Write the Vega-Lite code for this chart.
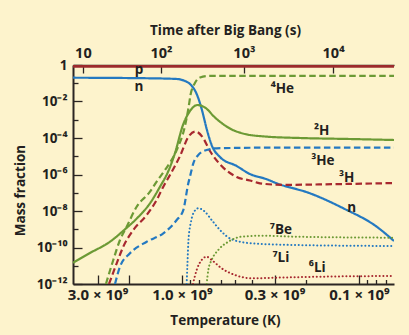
{
  "$schema": "https://vega.github.io/schema/vega-lite/v6.json",
  "width": 321,
  "height": 219,
  "autosize": {"type": "none"},
  "padding": {"left": 73, "top": 65, "right": 15, "bottom": 51},
  "background": "#fdf3cc",
  "config": {"view": {"stroke": null}, "font": "Open Sans"},
  "datasets": {
    "lines": [
      {"s": "n", "T": 4.13e9, "f": 0.201}, {"s": "n", "T": 1.52e9, "f": 0.187}, {"s": "n", "T": 1.067e9, "f": 0.171}, {"s": "n", "T": 9.62e8, "f": 0.133}, {"s": "n", "T": 9.01e8, "f": 0.091}, {"s": "n", "T": 8.26e8, "f": 0.0258}, {"s": "n", "T": 7.74e8, "f": 3.88e-3}, {"s": "n", "T": 7.25e8, "f": 3.11e-4}, {"s": "n", "T": 6.80e8, "f": 4.13e-5}, {"s": "n", "T": 6.10e8, "f": 9.1e-6}, {"s": "n", "T": 4.91e8, "f": 2.92e-6}, {"s": "n", "T": 4.13e8, "f": 1.06e-6}, {"s": "n", "T": 3.35e8, "f": 5.67e-7}, {"s": "n", "T": 2.92e8, "f": 3.30e-7}, {"s": "n", "T": 1.892e8, "f": 9.33e-8}, {"s": "n", "T": 1.226e8, "f": 1.41e-8}, {"s": "n", "T": 7.94e7, "f": 1.38e-9}, {"s": "n", "T": 6.34e7, "f": 2.27e-10},
      {"s": "2H", "T": 4.13e9, "f": 1.47e-11}, {"s": "2H", "T": 3.31e9, "f": 5.0e-11}, {"s": "2H", "T": 2.55e9, "f": 2.08e-10}, {"s": "2H", "T": 2.10e9, "f": 9.93e-10}, {"s": "2H", "T": 1.796e9, "f": 3.98e-9}, {"s": "2H", "T": 1.516e9, "f": 2.64e-8}, {"s": "2H", "T": 1.331e9, "f": 2.15e-7}, {"s": "2H", "T": 1.2e9, "f": 1.37e-6}, {"s": "2H", "T": 1.095e9, "f": 1.51e-5}, {"s": "2H", "T": 9.87e8, "f": 5.16e-4}, {"s": "2H", "T": 9.01e8, "f": 3.02e-3}, {"s": "2H", "T": 8.18e8, "f": 6.43e-3}, {"s": "2H", "T": 7.42e8, "f": 4.69e-3}, {"s": "2H", "T": 6.51e8, "f": 1.33e-3}, {"s": "2H", "T": 5.36e8, "f": 3.32e-4}, {"s": "2H", "T": 4.41e8, "f": 1.66e-4}, {"s": "2H", "T": 3.40e8, "f": 1.21e-4}, {"s": "2H", "T": 2.154e8, "f": 1.0e-4}, {"s": "2H", "T": 1.124e8, "f": 8.81e-5}, {"s": "2H", "T": 6.34e7, "f": 7.77e-5},
      {"s": "4He", "T": 2.69e9, "f": 1e-12}, {"s": "4He", "T": 2.444e9, "f": 2.07e-11}, {"s": "4He", "T": 2.24e9, "f": 2.58e-10}, {"s": "4He", "T": 2.053e9, "f": 1.38e-9}, {"s": "4He", "T": 1.803e9, "f": 1.72e-8}, {"s": "4He", "T": 1.516e9, "f": 1.14e-7}, {"s": "4He", "T": 1.39e9, "f": 4.03e-7}, {"s": "4He", "T": 1.247e9, "f": 1.76e-6}, {"s": "4He", "T": 1.071e9, "f": 2.20e-5}, {"s": "4He", "T": 9.62e8, "f": 4.55e-4}, {"s": "4He", "T": 9.19e8, "f": 4.40e-3}, {"s": "4He", "T": 8.95e8, "f": 0.0227}, {"s": "4He", "T": 8.45e8, "f": 0.103}, {"s": "4He", "T": 7.91e8, "f": 0.207}, {"s": "4He", "T": 6.95e8, "f": 0.255}, {"s": "4He", "T": 6.34e7, "f": 0.255},
      {"s": "3H", "T": 2.585e9, "f": 1e-12}, {"s": "3H", "T": 2.338e9, "f": 1.36e-11}, {"s": "3H", "T": 2.146e9, "f": 1.11e-10}, {"s": "3H", "T": 1.884e9, "f": 9.1e-10}, {"s": "3H", "T": 1.582e9, "f": 6.04e-9}, {"s": "3H", "T": 1.39e9, "f": 4.0e-8}, {"s": "3H", "T": 1.275e9, "f": 2.15e-7}, {"s": "3H", "T": 1.169e9, "f": 9.4e-7}, {"s": "3H", "T": 1.026e9, "f": 1.03e-5}, {"s": "3H", "T": 9.21e8, "f": 1.13e-4}, {"s": "3H", "T": 8.39e8, "f": 2.27e-4}, {"s": "3H", "T": 7.66e8, "f": 1.13e-4}, {"s": "3H", "T": 6.95e8, "f": 1.94e-5}, {"s": "3H", "T": 5.97e8, "f": 2.92e-6}, {"s": "3H", "T": 4.91e8, "f": 7.30e-7}, {"s": "3H", "T": 4.13e8, "f": 4.69e-7}, {"s": "3H", "T": 3.63e8, "f": 3.30e-7}, {"s": "3H", "T": 2.688e8, "f": 2.70e-7}, {"s": "3H", "T": 1.403e8, "f": 2.95e-7}, {"s": "3H", "T": 6.34e7, "f": 3.4e-7},
      {"s": "3He", "T": 2.39e9, "f": 1e-12}, {"s": "3He", "T": 2.24e9, "f": 8.87e-12}, {"s": "3He", "T": 1.967e9, "f": 4.81e-11}, {"s": "3He", "T": 1.582e9, "f": 2.08e-10}, {"s": "3He", "T": 1.275e9, "f": 6.0e-10}, {"s": "3He", "T": 1.071e9, "f": 3.21e-9}, {"s": "3He", "T": 9.83e8, "f": 1.13e-8}, {"s": "3He", "T": 9.21e8, "f": 3.30e-7}, {"s": "3He", "T": 9.01e8, "f": 7.57e-7}, {"s": "3He", "T": 8.63e8, "f": 4.11e-6}, {"s": "3He", "T": 8.09e8, "f": 1.17e-5}, {"s": "3He", "T": 7.25e8, "f": 2.20e-5}, {"s": "3He", "T": 6.37e8, "f": 2.73e-5}, {"s": "3He", "T": 3.63e8, "f": 2.94e-5}, {"s": "3He", "T": 6.34e7, "f": 2.94e-5}
    ],
    "dots": [
      {"s": "7Li", "T": 9.41e8, "f": 1e-12}, {"s": "7Li", "T": 9.31e8, "f": 1.42e-11}, {"s": "7Li", "T": 9.19e8, "f": 2.58e-10}, {"s": "7Li", "T": 8.90e8, "f": 2.50e-9}, {"s": "7Li", "T": 8.55e8, "f": 8.81e-9}, {"s": "7Li", "T": 8.09e8, "f": 1.41e-8}, {"s": "7Li", "T": 7.42e8, "f": 9.16e-9}, {"s": "7Li", "T": 6.80e8, "f": 3.21e-9}, {"s": "7Li", "T": 5.97e8, "f": 7.34e-10}, {"s": "7Li", "T": 5.24e8, "f": 2.81e-10}, {"s": "7Li", "T": 4.04e8, "f": 1.70e-10}, {"s": "7Li", "T": 2.30e8, "f": 1.37e-10}, {"s": "7Li", "T": 6.34e7, "f": 1.21e-10},
      {"s": "7Be", "T": 7.25e8, "f": 1e-12}, {"s": "7Be", "T": 7.10e8, "f": 5.85e-12}, {"s": "7Be", "T": 6.80e8, "f": 2.07e-11}, {"s": "7Be", "T": 6.24e8, "f": 7.3e-11}, {"s": "7Be", "T": 5.47e8, "f": 2.08e-10}, {"s": "7Be", "T": 4.60e8, "f": 3.91e-10}, {"s": "7Be", "T": 3.55e8, "f": 4.43e-10}, {"s": "7Be", "T": 2.30e8, "f": 3.91e-10}, {"s": "7Be", "T": 6.34e7, "f": 3.44e-10},
      {"s": "6Li", "T": 8.67e8, "f": 1e-12}, {"s": "6Li", "T": 8.26e8, "f": 5.85e-12}, {"s": "6Li", "T": 7.74e8, "f": 2.07e-11}, {"s": "6Li", "T": 7.25e8, "f": 3.13e-11}, {"s": "6Li", "T": 6.80e8, "f": 2.07e-11}, {"s": "6Li", "T": 5.97e8, "f": 7.25e-12}, {"s": "6Li", "T": 5.02e8, "f": 3.11e-12}, {"s": "6Li", "T": 4.04e8, "f": 2.05e-12}, {"s": "6Li", "T": 2.98e8, "f": 2.21e-12}, {"s": "6Li", "T": 1.403e8, "f": 2.58e-12}, {"s": "6Li", "T": 6.34e7, "f": 2.74e-12}
    ],
    "proton": [
      {"s": "p", "T": 4.13e9, "f": 0.85}, {"s": "p", "T": 6.34e7, "f": 0.85}
    ],
    "labels": [
      {"label": "p", "T": 1.75e9, "f": 0.342},
      {"label": "n", "T": 1.75e9, "f": 0.0391},
      {"label": "⁴He", "T": 2.71e8, "f": 0.0281},
      {"label": "²H", "T": 1.624e8, "f": 1.46e-4},
      {"label": "³He", "T": 1.60e8, "f": 3.32e-6},
      {"label": "³H", "T": 1.173e8, "f": 4.03e-7},
      {"label": "n", "T": 1.10e8, "f": 9.16e-9},
      {"label": "⁷Be", "T": 2.76e8, "f": 5.29e-10},
      {"label": "⁷Li", "T": 2.76e8, "f": 1.55e-11},
      {"label": "⁶Li", "T": 1.72e8, "f": 4.72e-12}
    ]
  },
  "resolve": {"axis": {"x": "independent"}},
  "layer": [
    {
      "data": {"name": "lines"},
      "mark": {"type": "line", "interpolate": "monotone", "strokeWidth": 2.2, "clip": true},
      "encoding": {
        "x": {
          "field": "T", "type": "quantitative",
          "scale": {"type": "log", "domain": [6.34e7, 4.128e9], "reverse": true, "nice": false},
          "axis": {
            "orient": "bottom",
            "values": [3e9, 2e9, 1e9, 9e8, 8e8, 6e8, 5e8, 4e8, 3e8, 2e8, 1e8, 9e7, 8e7, 7e7],
            "labelExpr": "datum.value == 3e9 ? '3.0 × 10⁹' : datum.value == 1e9 ? '1.0 × 10⁹' : datum.value == 3e8 ? '0.3 × 10⁹' : datum.value == 1e8 ? '0.1 × 10⁹' : ''",
            "tickSize": {"condition": {"test": "indexof([3e9, 2e9, 1e9, 3e8, 1e8], datum.value) >= 0", "value": -9}, "value": -4.5},
            "tickColor": "#2b2522", "tickWidth": 1.3,
            "domainColor": "#2b2522", "domainWidth": 2,
            "labelPadding": 12,
            "labelFontWeight": "bold", "labelFontSize": 15, "labelColor": "#231f20",
            "labelOverlap": false, "labelFlush": false, "grid": false,
            "title": "Temperature (K)", "titleFontSize": 13.5, "titleFontWeight": "bold", "titleColor": "#231f20",
            "titleX": 152, "titleY": 36, "titleBaseline": "middle", "titleAlign": "center"
          }
        },
        "y": {
          "field": "f", "type": "quantitative",
          "scale": {"type": "log", "domain": [1e-12, 1], "nice": false},
          "axis": {
            "values": [1, 0.1, 1e-2, 1e-3, 1e-4, 1e-5, 1e-6, 1e-7, 1e-8, 1e-9, 1e-10, 1e-11, 1e-12],
            "labelExpr": "round(log(datum.value)/LN10) == 0 ? '1' : round(log(datum.value)/LN10) == -2 ? '10⁻²' : round(log(datum.value)/LN10) == -4 ? '10⁻⁴' : round(log(datum.value)/LN10) == -6 ? '10⁻⁶' : round(log(datum.value)/LN10) == -8 ? '10⁻⁸' : round(log(datum.value)/LN10) == -10 ? '10⁻¹⁰' : round(log(datum.value)/LN10) == -12 ? '10⁻¹²' : ''",
            "tickSize": {"condition": {"test": "round(log(datum.value)/LN10) % 2 == 0", "value": -9}, "value": -5},
            "tickColor": "#2b2522", "tickWidth": 1.3,
            "domainColor": "#2b2522", "domainWidth": 2,
            "labelPadding": 15,
            "labelFontWeight": "bold", "labelFontSize": 13.5, "labelColor": "#231f20",
            "labelOverlap": false, "labelFlush": false, "grid": false,
            "title": "Mass fraction", "titleFontSize": 13.5, "titleFontWeight": "bold", "titleColor": "#231f20",
            "titleX": -53, "titleY": 125, "titleAngle": 270, "titleBaseline": "middle", "titleAlign": "center"
          }
        },
        "color": {
          "field": "s", "type": "nominal", "legend": null,
          "scale": {"domain": ["n", "2H", "4He", "3H", "3He", "7Li", "7Be", "6Li"], "range": ["#2479c1", "#6c9a35", "#6c9a35", "#a7282f", "#2479c1", "#2479c1", "#6c9a35", "#a7282f"]}
        },
        "strokeDash": {
          "field": "s", "type": "nominal", "legend": null,
          "scale": {"domain": ["n", "2H", "4He", "3H", "3He"], "range": [[1, 0], [1, 0], [6.5, 3.5], [6.5, 3.5], [6.5, 3.5]]}
        }
      }
    },
    {
      "data": {"name": "dots"},
      "mark": {"type": "line", "interpolate": "monotone", "strokeWidth": 2, "strokeCap": "round", "strokeDash": [0.1, 3.6], "clip": true},
      "encoding": {
        "x": {"field": "T", "type": "quantitative", "axis": null},
        "y": {"field": "f", "type": "quantitative"},
        "color": {
          "field": "s", "type": "nominal", "legend": null,
          "scale": {"domain": ["n", "2H", "4He", "3H", "3He", "7Li", "7Be", "6Li"], "range": ["#2479c1", "#6c9a35", "#6c9a35", "#a7282f", "#2479c1", "#2479c1", "#6c9a35", "#a7282f"]}
        }
      }
    },
    {
      "data": {"name": "proton"},
      "mark": {"type": "line", "color": "#9c2a2c", "strokeWidth": 3, "clip": true},
      "encoding": {
        "x": {"field": "T", "type": "quantitative", "axis": null},
        "y": {"field": "f", "type": "quantitative"}
      }
    },
    {
      "data": {"name": "labels"},
      "mark": {"type": "text", "fontWeight": "bold", "fontSize": 13.5, "color": "#231f20", "align": "center", "baseline": "alphabetic"},
      "encoding": {
        "x": {
          "field": "T", "type": "quantitative",
          "axis": {
            "orient": "top",
            "values": [3.63e9, 1.314e9, 4.47e8, 1.40e8],
            "labelExpr": "datum.value > 3e9 ? '10' : datum.value > 1e9 ? '10²' : datum.value > 3e8 ? '10³' : '10⁴'",
            "tickSize": -8, "tickColor": "#2b2522", "tickWidth": 1.3,
            "domainColor": "#2b2522", "domainWidth": 1.5,
            "labelPadding": 13,
            "labelFontWeight": "bold", "labelFontSize": 14.5, "labelColor": "#231f20",
            "labelOverlap": false, "labelFlush": false, "grid": false,
            "title": "Time after Big Bang (s)", "titleFontSize": 13.5, "titleFontWeight": "bold", "titleColor": "#231f20",
            "titleX": 152, "titleY": -35, "titleBaseline": "middle", "titleAlign": "center"
          }
        },
        "y": {"field": "f", "type": "quantitative"},
        "text": {"field": "label"}
      }
    }
  ]
}
